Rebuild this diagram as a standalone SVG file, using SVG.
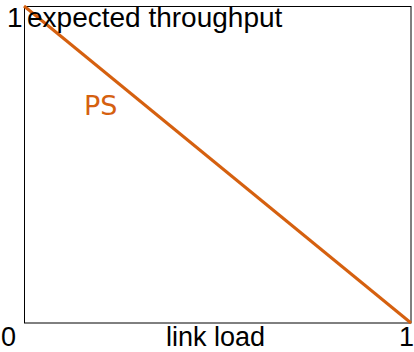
<svg xmlns="http://www.w3.org/2000/svg" width="414" height="352" viewBox="0 0 414 352">
<style>
.lbl{font-family:"Liberation Sans",Arial,sans-serif;font-size:27px;fill:#000}
.top{font-size:28px}
.ps{font-family:"DejaVu Sans",sans-serif;font-size:27px;fill:#d5600f}
</style>
<rect width="414" height="352" fill="#fff"/>
<g id="frame"><rect x="24.5" y="6.5" width="386.5" height="316.5" fill="none" stroke="#000" stroke-width="1"/></g>
<g id="connectors"><path d="M24,6 L411,323" fill="none" stroke="#d5600f" stroke-width="3"/></g>
<g id="labels">
<text class="lbl top" x="7" y="27">1</text>
<text class="lbl top" x="27" y="27">expected throughput</text>
<text class="ps" x="84" y="115">PS</text>
<text class="lbl" x="1" y="346">0</text>
<text class="lbl" x="166" y="346">link load</text>
<text class="lbl" x="399" y="346">1</text>
</g>
</svg>
